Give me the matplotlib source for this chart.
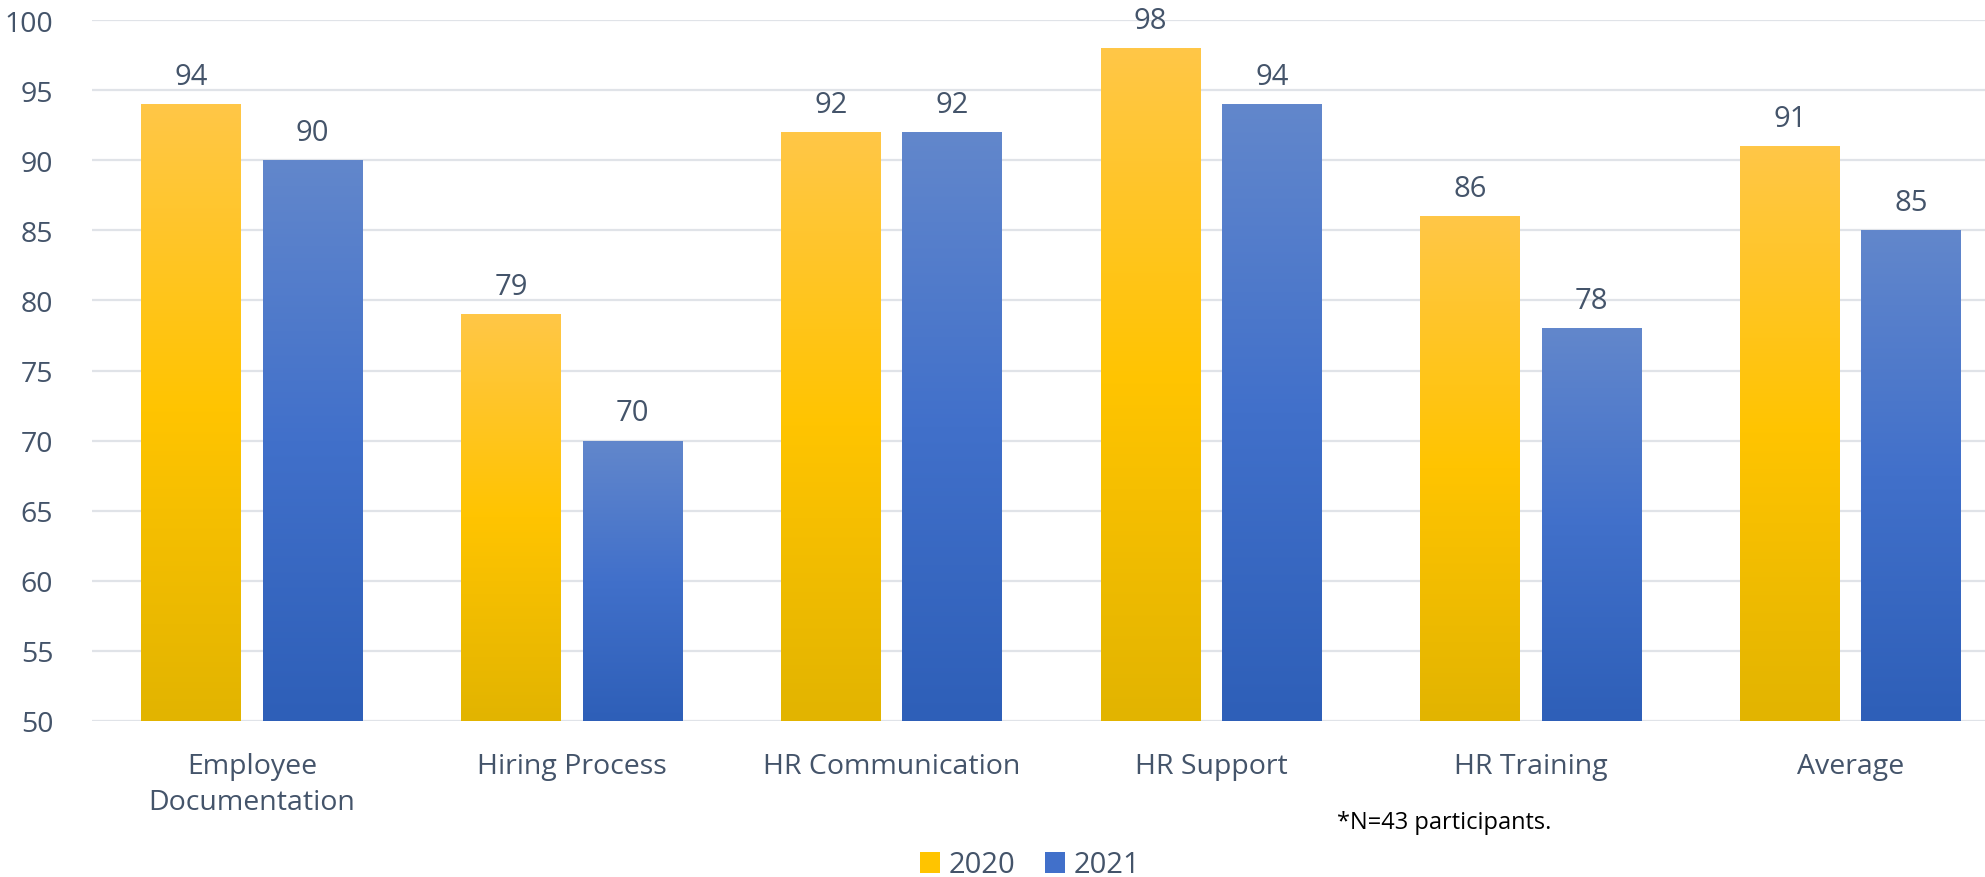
import numpy as np
import matplotlib
import matplotlib.pyplot as plt
from matplotlib.colors import LinearSegmentedColormap
from matplotlib.patches import Patch

matplotlib.use('Agg')

categories = ['Employee\nDocumentation', 'Hiring Process', 'HR Communication',
              'HR Support', 'HR Training', 'Average']
values_2020 = [94, 79, 92, 98, 86, 91]
values_2021 = [90, 70, 92, 94, 78, 85]
series_names = ['2020', '2021']
y_ticks = list(range(50, 101, 5))

TEXT = '#44546A'
GRID = '#E0E3E8'

# excel-like 3-stop gradients (bottom -> middle -> top)
yellow_cmap = LinearSegmentedColormap.from_list('y', ['#E2B400', '#FFC400', '#FFC747'])
blue_cmap = LinearSegmentedColormap.from_list('b', ['#2E5FB8', '#4170CA', '#6287CC'])

plt.rcParams['font.family'] = ['Open Sans', 'DejaVu Sans']

fig = plt.figure(figsize=(19.85, 8.78), dpi=100)
ax = fig.add_axes([0.0464, 0.1777, 0.9536, 0.7983])

x = np.arange(len(categories))
width = 0.3125
offset = 0.19
y_min = 50

grad = np.linspace(0, 1, 256).reshape(-1, 1)


def gradient_bars(xpos, vals, cmap):
    bars = ax.bar(xpos, np.array(vals) - y_min, width, bottom=y_min,
                  color='none', edgecolor='none', zorder=2)
    for b in bars:
        x0, y0 = b.get_x(), b.get_y()
        im = ax.imshow(grad, cmap=cmap, origin='lower', aspect='auto',
                       extent=[x0, x0 + b.get_width(), y0, y0 + b.get_height()],
                       zorder=2)
        im.set_clip_path(b)
    for xi, v in zip(xpos, vals):
        ax.annotate(str(v), (xi, v), xytext=(0, 20), textcoords='offset points',
                    ha='center', va='center', fontsize=21, color=TEXT)
    return bars


gradient_bars(x - offset, values_2020, yellow_cmap)
gradient_bars(x + offset, values_2021, blue_cmap)

ax.set_xlim(-0.5, 5.42)
ax.set_ylim(50, 100)
ax.set_yticks(y_ticks)
ax.set_xticks(x)
ax.set_xticklabels(categories, fontsize=20.5, color=TEXT, linespacing=1.4)
ax.tick_params(axis='y', labelsize=20.5, labelcolor=TEXT, length=0, pad=28)
ax.tick_params(axis='x', length=0, pad=22)
ax.grid(axis='y', color=GRID, linewidth=1.6, zorder=0)
ax.set_axisbelow(True)
for s in ax.spines.values():
    s.set_visible(False)

fig.text(1337 / 1985, 1 - 823 / 878, '*N=43 participants.', fontsize=17,
         color='black', ha='left', va='center')

handles = [Patch(facecolor='#FFC400', edgecolor='none'),
           Patch(facecolor='#4170CA', edgecolor='none')]
fig.legend(handles, series_names, loc='center', bbox_to_anchor=(1030 / 1985, 1 - 866 / 878),
           ncol=2, frameon=False, fontsize=21, labelcolor=TEXT,
           handlelength=0.7, handleheight=0.7, handletextpad=0.3, columnspacing=1.0)

fig.savefig('out.png', dpi=100)
